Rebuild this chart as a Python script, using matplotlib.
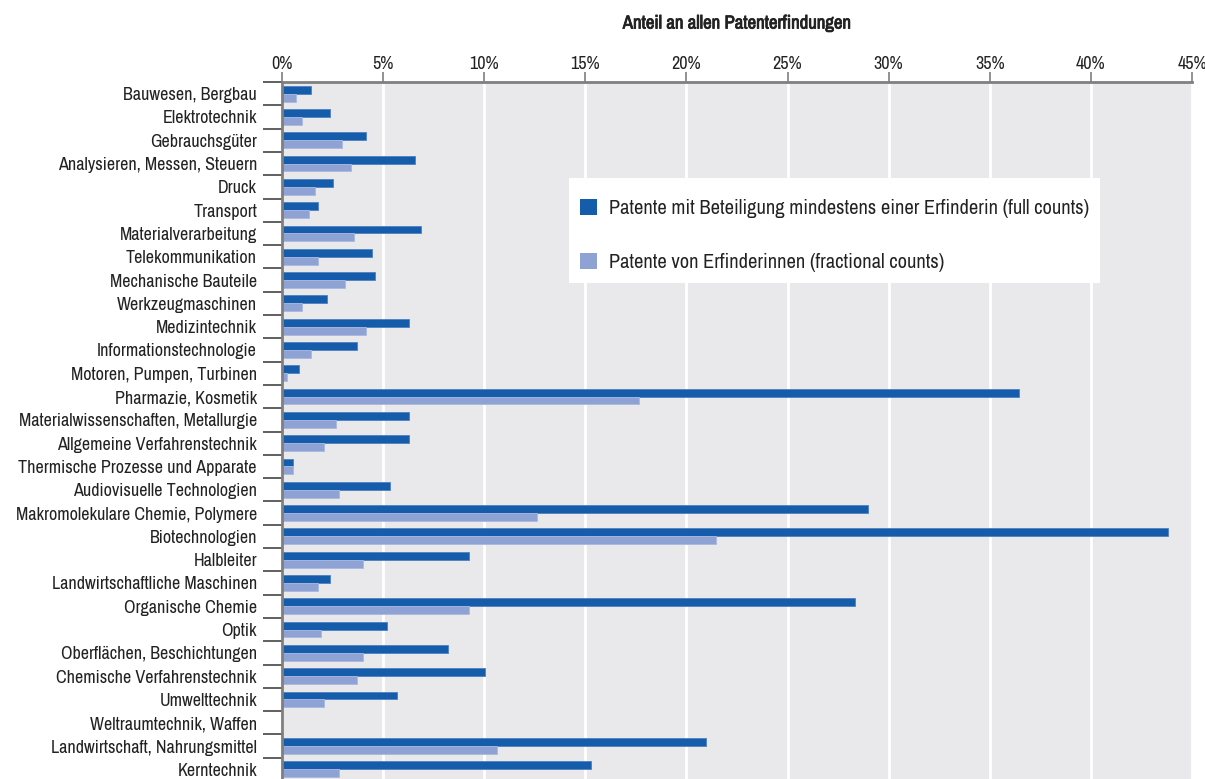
import numpy as np
import matplotlib
matplotlib.use("Agg")
import matplotlib.pyplot as plt
import matplotlib.patheffects as pe
from matplotlib import font_manager as fm
from matplotlib.patches import Patch, Rectangle
from matplotlib.ticker import FuncFormatter, MultipleLocator


def pick_narrow_font():
    # prefer a condensed / narrow sans face if one is installed
    best = None
    for f in fm.fontManager.ttflist:
        key = (f.name + " " + f.fname).lower()
        narrow = ("narrow" in key or "condensed" in key
                  or f.stretch in ("condensed", "semi-condensed", "extra-condensed"))
        if not narrow or f.style != "normal" or f.weight not in (400, "normal", "regular"):
            continue
        if "extra" in key or "ultra" in key or "semi" in key:
            continue
        rank = 0 if "narrow" in key else 1
        if best is None or rank < best[0]:
            best = (rank, f)
    return best[1] if best else None


narrow = pick_narrow_font()
if narrow is not None:
    plt.rcParams["font.family"] = [narrow.name, "DejaVu Sans"]
    plt.rcParams["font.stretch"] = narrow.stretch
    FS, FS_LEG = 13, 14.7
else:
    plt.rcParams["font.family"] = ["Liberation Sans", "DejaVu Sans"]
    FS, FS_LEG = 11, 12

DARK = "#155dab"
LIGHT = "#8fa2d4"
BG = "#e9e9ec"
AXIS = "#7f7f7f"
TEXT = "#222222"

fields = [
    "Bauwesen, Bergbau", "Elektrotechnik", "Gebrauchsgüter",
    "Analysieren, Messen, Steuern", "Druck", "Transport",
    "Materialverarbeitung", "Telekommunikation", "Mechanische Bauteile",
    "Werkzeugmaschinen", "Medizintechnik", "Informationstechnologie",
    "Motoren, Pumpen, Turbinen", "Pharmazie, Kosmetik",
    "Materialwissenschaften, Metallurgie", "Allgemeine Verfahrenstechnik",
    "Thermische Prozesse und Apparate", "Audiovisuelle Technologien",
    "Makromolekulare Chemie, Polymere", "Biotechnologien", "Halbleiter",
    "Landwirtschaftliche Maschinen", "Organische Chemie", "Optik",
    "Oberflächen, Beschichtungen", "Chemische Verfahrenstechnik",
    "Umwelttechnik", "Weltraumtechnik, Waffen",
    "Landwirtschaft, Nahrungsmittel", "Kerntechnik",
]

# share of all patent inventions, in percent
full_counts = [
    1.45, 2.36, 4.17, 6.58, 2.52, 1.76, 6.87, 4.47, 4.62, 2.21,
    6.26, 3.71, 0.86, 36.46, 6.26, 6.26, 0.54, 5.36, 28.97, 43.83,
    9.26, 2.36, 28.35, 5.21, 8.23, 10.02, 5.67, 0.0, 20.98, 15.28,
]
fractional_counts = [
    0.71, 1.00, 2.97, 3.41, 1.62, 1.32, 3.56, 1.76, 3.12, 1.00,
    4.17, 1.45, 0.25, 17.67, 2.65, 2.06, 0.54, 2.80, 12.60, 21.45,
    4.00, 1.76, 9.26, 1.91, 4.00, 3.71, 2.06, 0.0, 10.62, 2.80,
]

label_full = "Patente mit Beteiligung mindestens einer Erfinderin (full counts)"
label_frac = "Patente von Erfinderinnen (fractional counts)"

W, H = 1205, 779
fig = plt.figure(figsize=(W / 100, H / 100), dpi=100)

ax_left, ax_right, ax_top, ax_bottom = 282, 1192, 82, 781
ax = fig.add_axes([ax_left / W, (H - ax_bottom) / H,
                   (ax_right - ax_left) / W, (ax_bottom - ax_top) / H])
ax.set_facecolor(BG)

y = np.arange(len(fields))
h = 0.34
ax.barh(y - h / 2, full_counts, height=h, color=DARK,
        edgecolor="#4f80c2", linewidth=0.6, zorder=2)
ax.barh(y + h / 2, fractional_counts, height=h, color=LIGHT,
        edgecolor="#aab9e1", linewidth=0.6, zorder=2)

ax.set_xlim(0, 45)
ax.set_ylim(len(fields) - 0.5, -0.5)

# x axis on top with percent labels and white grid lines
ax.xaxis.tick_top()
ax.xaxis.set_label_position("top")
ax.xaxis.set_major_locator(MultipleLocator(5))
ax.xaxis.set_major_formatter(FuncFormatter(lambda v, _: f"{v:.0f}%"))
ax.tick_params(axis="x", length=7, width=1.2, color=AXIS, pad=0,
               labelsize=FS, labelcolor=TEXT)
ax.grid(axis="x", color="white", linewidth=2)
ax.set_axisbelow(True)
xl = ax.set_xlabel("Anteil an allen Patenterfindungen", fontsize=FS + 0.5,
                   fontweight="bold", labelpad=20, color=TEXT)
# thicken the narrow face a little so the heading reads as bold
xl.set_path_effects([pe.withStroke(linewidth=0.6, foreground=TEXT)])

# category labels centred on rows, separator ticks between rows
ax.set_yticks(y)
ax.set_yticklabels(fields)
ax.tick_params(axis="y", which="major", length=0, pad=18, labelsize=FS,
               labelcolor=TEXT)
ax.set_yticks(np.arange(-0.5, len(fields), 1.0), minor=True)
ax.tick_params(axis="y", which="minor", length=14, width=1.2, color="#444444")

for side in ("right", "bottom"):
    ax.spines[side].set_visible(False)
for side in ("top", "left"):
    ax.spines[side].set_color(AXIS)
    ax.spines[side].set_linewidth(2)

# white legend panel
box = Rectangle((569 / W, 1 - 283 / H), (1100 - 569) / W, (283 - 178) / H,
                transform=fig.transFigure, facecolor="white",
                edgecolor="none", zorder=3)
ax.add_patch(box)
handles = [Patch(facecolor=DARK, label=label_full),
           Patch(facecolor=LIGHT, label=label_frac)]
leg = ax.legend(handles=handles, loc="upper left",
                bbox_to_anchor=(576 / W, 1 - 195 / H),
                bbox_transform=fig.transFigure, frameon=False,
                fontsize=FS_LEG, handlelength=0.85, handleheight=0.85,
                handletextpad=0.55, labelspacing=1.68, borderaxespad=0,
                borderpad=0.2)
leg.set_zorder(4)
for t in leg.get_texts():
    t.set_color(TEXT)

fig.savefig("out.png", dpi=100)
